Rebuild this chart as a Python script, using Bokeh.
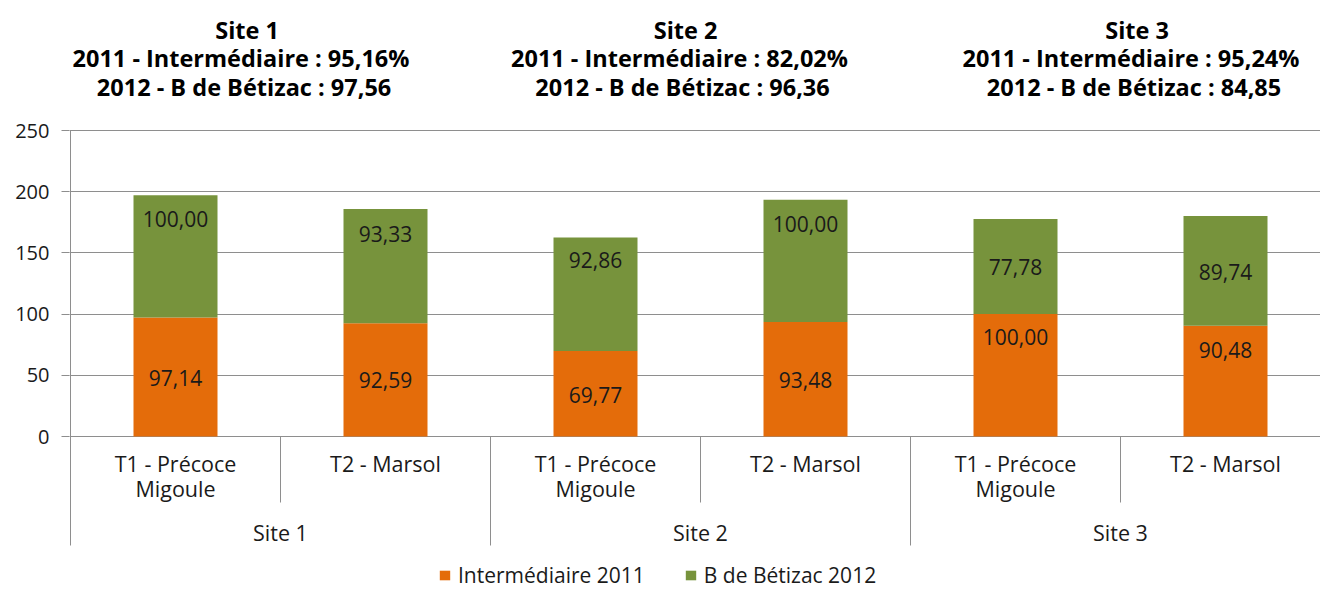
from bokeh.plotting import figure
from bokeh.models import (ColumnDataSource, FixedTicker, Legend, LegendItem, Range1d)
from bokeh.core.properties import value
from bokeh.embed import file_html
from bokeh.resources import INLINE

# ---------------- data ----------------
sites = ["Site 1", "Site 2", "Site 3"]
treatments = ["T1 - Précoce\nMigoule", "T2 - Marsol"]
series_names = ["Intermédiaire 2011", "B de Bétizac 2012"]
inter_2011 = [97.14, 92.59, 69.77, 93.48, 100.00, 90.48]
betizac_2012 = [100.00, 93.33, 92.86, 100.00, 77.78, 89.74]
y_ticks = [0, 50, 100, 150, 200, 250]
site_titles = [
    "Site 1\n2011  - Intermédiaire  : 95,16%\n2012  - B de Bétizac : 97,56",
    "Site 2\n2011  - Intermédiaire  : 82,02%\n2012  - B de Bétizac : 96,36",
    "Site 3\n2011  - Intermédiaire  : 95,24%\n2012  - B de Bétizac : 84,85",
]

# ---------------- layout / style ----------------
FONT = "Open Sans"
ORANGE = "#E46C0A"
GREEN = "#77933C"
GRID = "#8E8E8E"
TXT = "#1A1A1A"
W, H = 1320, 590
LEFT = 70                    # pixel of value-axis line
CAT_PX = 210                 # pixel width of one category
Y0_PX, Y250_PX = 436, 130    # pixel rows of 0 and 250
PPU = (Y0_PX - Y250_PX) / 250.0

def ypx(px):
    """value that sits at pixel row px"""
    return (Y0_PX - px) / PPU

X_START = -1.0 / CAT_PX
X_END = (W - LEFT) / CAT_PX
Y_TOP = ypx(0)
Y_BOT = ypx(H)
SEP_BOT = ypx(545)
SEP_INNER = ypx(502)

# label anchors (value units) as placed in the reference
orange_label_y = [47.4, 45.8, 34.3, 45.8, 80.9, 70.3]
green_label_y = [178.1, 165.8, 143.8, 174.0, 138.1, 134.0]
title_x = [0.841, 2.929, 5.079]
title_line_px = [29, 57.5, 86.5]

n_t = len(treatments)
xs = [i + 0.5 for i in range(len(sites) * n_t)]
cat_labels = [t for _ in sites for t in treatments]
cat_l1 = [c.split("\n")[0] for c in cat_labels]
cat_l2 = [c.split("\n")[1] if "\n" in c else "" for c in cat_labels]

def fmt(v):
    return f"{v:.2f}".replace(".", ",")

src = ColumnDataSource(dict(x=xs, a=inter_2011, b=betizac_2012))

p = figure(width=W, height=H, output_backend="svg", toolbar_location=None,
           x_range=Range1d(X_START, X_END), y_range=Range1d(Y_BOT, Y_TOP),
           x_axis_location=None, y_axis_location="left",
           min_border_left=LEFT - 1, min_border_right=0, min_border_top=0,
           min_border_bottom=0)
p.outline_line_color = None
p.background_fill_color = "white"
p.border_fill_color = "white"

rs = p.vbar_stack(["a", "b"], x="x", width=0.4, source=src,
                  fill_color=[ORANGE, GREEN], line_color=None)

# y axis
ax = p.yaxis[0]
ax.ticker = FixedTicker(ticks=y_ticks, minor_ticks=[])
ax.major_tick_in = 0
ax.major_tick_out = 8
ax.minor_tick_out = 0
ax.axis_line_color = None
ax.major_tick_line_color = GRID
ax.major_label_text_font = FONT
ax.major_label_text_font_size = "20px"
ax.major_label_text_color = TXT
ax.major_label_standoff = 12
p.ygrid.ticker = FixedTicker(ticks=y_ticks)
p.ygrid.grid_line_color = GRID
p.xgrid.visible = False

# value-axis line (ends with the category area) and category separators
sx, sy0, sy1 = [0], [y_ticks[-1]], [SEP_BOT]
for k in range(1, len(xs)):
    sx.append(k)
    sy0.append(0)
    sy1.append(SEP_BOT if k % n_t == 0 else SEP_INNER)
p.segment(x0=sx, y0=sy0, x1=sx, y1=sy1, line_color=GRID, line_width=1)

txt_kw = dict(text_font=value(FONT), text_color=TXT, text_align="center",
              text_baseline="middle")

# category labels
p.text(x=xs, y=[ypx(463)] * len(xs), text=cat_l1, text_font_size="21.5px", **txt_kw)
p.text(x=xs, y=[ypx(488)] * len(xs), text=cat_l2, text_font_size="21.5px", **txt_kw)
site_x = [s * n_t + n_t / 2 for s in range(len(sites))]
p.text(x=site_x, y=[ypx(532)] * len(sites), text=sites, text_font_size="21.5px", **txt_kw)

# bar value labels
p.text(x=xs, y=orange_label_y, text=[fmt(v) for v in inter_2011],
       text_font_size="21px", **txt_kw)
p.text(x=xs, y=green_label_y, text=[fmt(v) for v in betizac_2012],
       text_font_size="21px", **txt_kw)

# titles above each site
for li, lpx in enumerate(title_line_px):
    p.text(x=title_x, y=[ypx(lpx)] * len(title_x),
           text=[t.split("\n")[li] for t in site_titles],
           text_font=value(FONT), text_font_size="23.5px", text_font_style="bold",
           text_color="#000000", text_align="center", text_baseline="middle")

legend = Legend(items=[LegendItem(label=series_names[i], renderers=[rs[i]]) for i in range(2)],
                orientation="horizontal", location=(438 - (LEFT - 1), 1))
legend.glyph_width = 13
legend.glyph_height = 12
legend.label_standoff = 7
legend.spacing = 39
legend.padding = 0
legend.margin = 0
legend.border_line_color = None
legend.background_fill_alpha = 0
legend.label_text_font = FONT
legend.label_text_font_size = "21px"
legend.label_text_color = TXT
p.add_layout(legend, "center")

open("out.html", "w").write(file_html(p, INLINE))
